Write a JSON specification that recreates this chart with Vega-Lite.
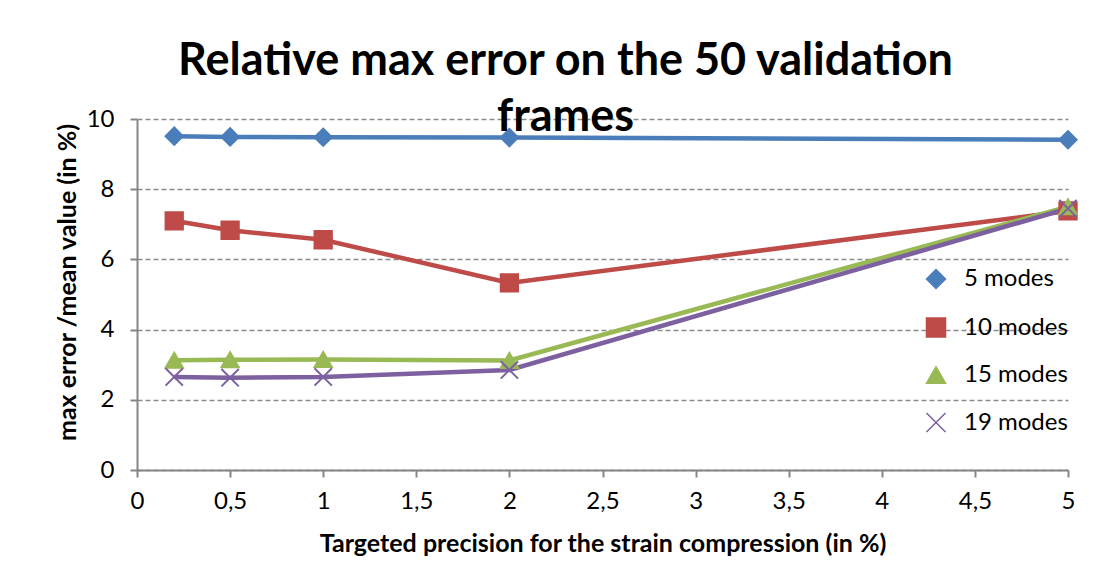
{
  "$schema": "https://vega.github.io/schema/vega-lite/v6.json",
  "width": 931,
  "height": 351,
  "autosize": {"type": "none"},
  "padding": {"left": 137, "top": 119, "right": 47, "bottom": 108},
  "background": "white",
  "config": {
    "view": {"stroke": null},
    "font": "Lato",
    "axis": {"labelFont": "Lato", "titleFont": "Lato", "labelColor": "#000000", "titleColor": "#000000"},
    "legend": {"labelFont": "Lato", "labelColor": "#000000"}
  },
  "title": {
    "text": ["Relative max error on the 50 validation", "frames"],
    "font": "Lato",
    "fontSize": 45,
    "fontWeight": "bold",
    "lineHeight": 56,
    "color": "#000000",
    "anchor": "middle",
    "dx": -37,
    "offset": -33
  },
  "data": {
    "values": [
      {"series": "5 modes", "x": 0.2, "y": 9.51},
      {"series": "5 modes", "x": 0.5, "y": 9.49},
      {"series": "5 modes", "x": 1, "y": 9.48},
      {"series": "5 modes", "x": 2, "y": 9.47},
      {"series": "5 modes", "x": 5, "y": 9.41},
      {"series": "10 modes", "x": 0.2, "y": 7.1},
      {"series": "10 modes", "x": 0.5, "y": 6.83},
      {"series": "10 modes", "x": 1, "y": 6.56},
      {"series": "10 modes", "x": 2, "y": 5.33},
      {"series": "10 modes", "x": 5, "y": 7.38},
      {"series": "15 modes", "x": 0.2, "y": 3.13},
      {"series": "15 modes", "x": 0.5, "y": 3.14},
      {"series": "15 modes", "x": 1, "y": 3.15},
      {"series": "15 modes", "x": 2, "y": 3.12},
      {"series": "15 modes", "x": 5, "y": 7.5},
      {"series": "19 modes", "x": 0.2, "y": 2.65},
      {"series": "19 modes", "x": 0.5, "y": 2.63},
      {"series": "19 modes", "x": 1, "y": 2.65},
      {"series": "19 modes", "x": 2, "y": 2.85},
      {"series": "19 modes", "x": 5, "y": 7.45}
    ]
  },
  "encoding": {
    "x": {
      "field": "x",
      "type": "quantitative",
      "scale": {"domain": [0, 5], "nice": false},
      "axis": {
        "title": "Targeted precision for the strain compression (in %)",
        "titleFontSize": 25,
        "titleFontWeight": "bold",
        "titlePadding": 18,
        "values": [0, 0.5, 1, 1.5, 2, 2.5, 3, 3.5, 4, 4.5, 5],
        "labelExpr": "replace(format(datum.value, ''), '.', ',')",
        "labelFontSize": 24,
        "labelPadding": 12,
        "labelFlush": false,
        "labelOverlap": false,
        "grid": false,
        "domainColor": "#868686",
        "domainWidth": 2,
        "tickColor": "#868686",
        "tickWidth": 2,
        "tickSize": 7
      }
    },
    "y": {
      "field": "y",
      "type": "quantitative",
      "scale": {"domain": [0, 10], "nice": false},
      "axis": {
        "title": "max error /mean value (in %)",
        "titleFontSize": 25,
        "titleFontWeight": "bold",
        "titlePadding": 6,
        "titleY": 163,
        "values": [0, 2, 4, 6, 8, 10],
        "labelFontSize": 24,
        "labelPadding": 16,
        "labelFlush": false,
        "grid": true,
        "gridColor": "#8a8a8a",
        "gridWidth": 1.5,
        "gridDash": [5, 3],
        "domainColor": "#868686",
        "domainWidth": 2,
        "tickColor": "#868686",
        "tickWidth": 2,
        "tickSize": 7
      }
    }
  },
  "layer": [
    {
      "mark": {"type": "line", "strokeWidth": 4.5},
      "encoding": {
        "order": {"field": "x"},
        "color": {
          "field": "series",
          "type": "nominal",
          "sort": ["5 modes", "10 modes", "15 modes", "19 modes"],
          "scale": {"domain": ["5 modes", "10 modes", "15 modes", "19 modes"], "range": ["#4a7ebb", "#be4b48", "#98b954", "#7d60a0"]},
          "legend": {
            "title": null,
            "orient": "none",
            "legendX": 787,
            "legendY": 148,
            "padding": 0,
            "labelFontSize": 24,
            "labelOffset": 16,
            "rowPadding": 22.5,
            "symbolSize": 361
          }
        }
      }
    },
    {
      "mark": {"type": "point", "size": 300, "opacity": 1, "strokeWidth": 2},
      "encoding": {
        "shape": {
          "field": "series",
          "type": "nominal",
          "scale": {"domain": ["5 modes", "10 modes", "15 modes", "19 modes"], "range": ["diamond", "square", "triangle-up", "M-1,-1L1,1M-1,1L1,-1"]},
          "legend": null
        },
        "fill": {
          "field": "series",
          "type": "nominal",
          "scale": {"domain": ["5 modes", "10 modes", "15 modes", "19 modes"], "range": ["#4a7ebb", "#be4b48", "#98b954", "#7d60a0"]},
          "legend": null
        },
        "stroke": {
          "field": "series",
          "type": "nominal",
          "scale": {"domain": ["5 modes", "10 modes", "15 modes", "19 modes"], "range": ["#4a7ebb", "#be4b48", "#98b954", "#7d60a0"]},
          "legend": null
        }
      }
    }
  ]
}
